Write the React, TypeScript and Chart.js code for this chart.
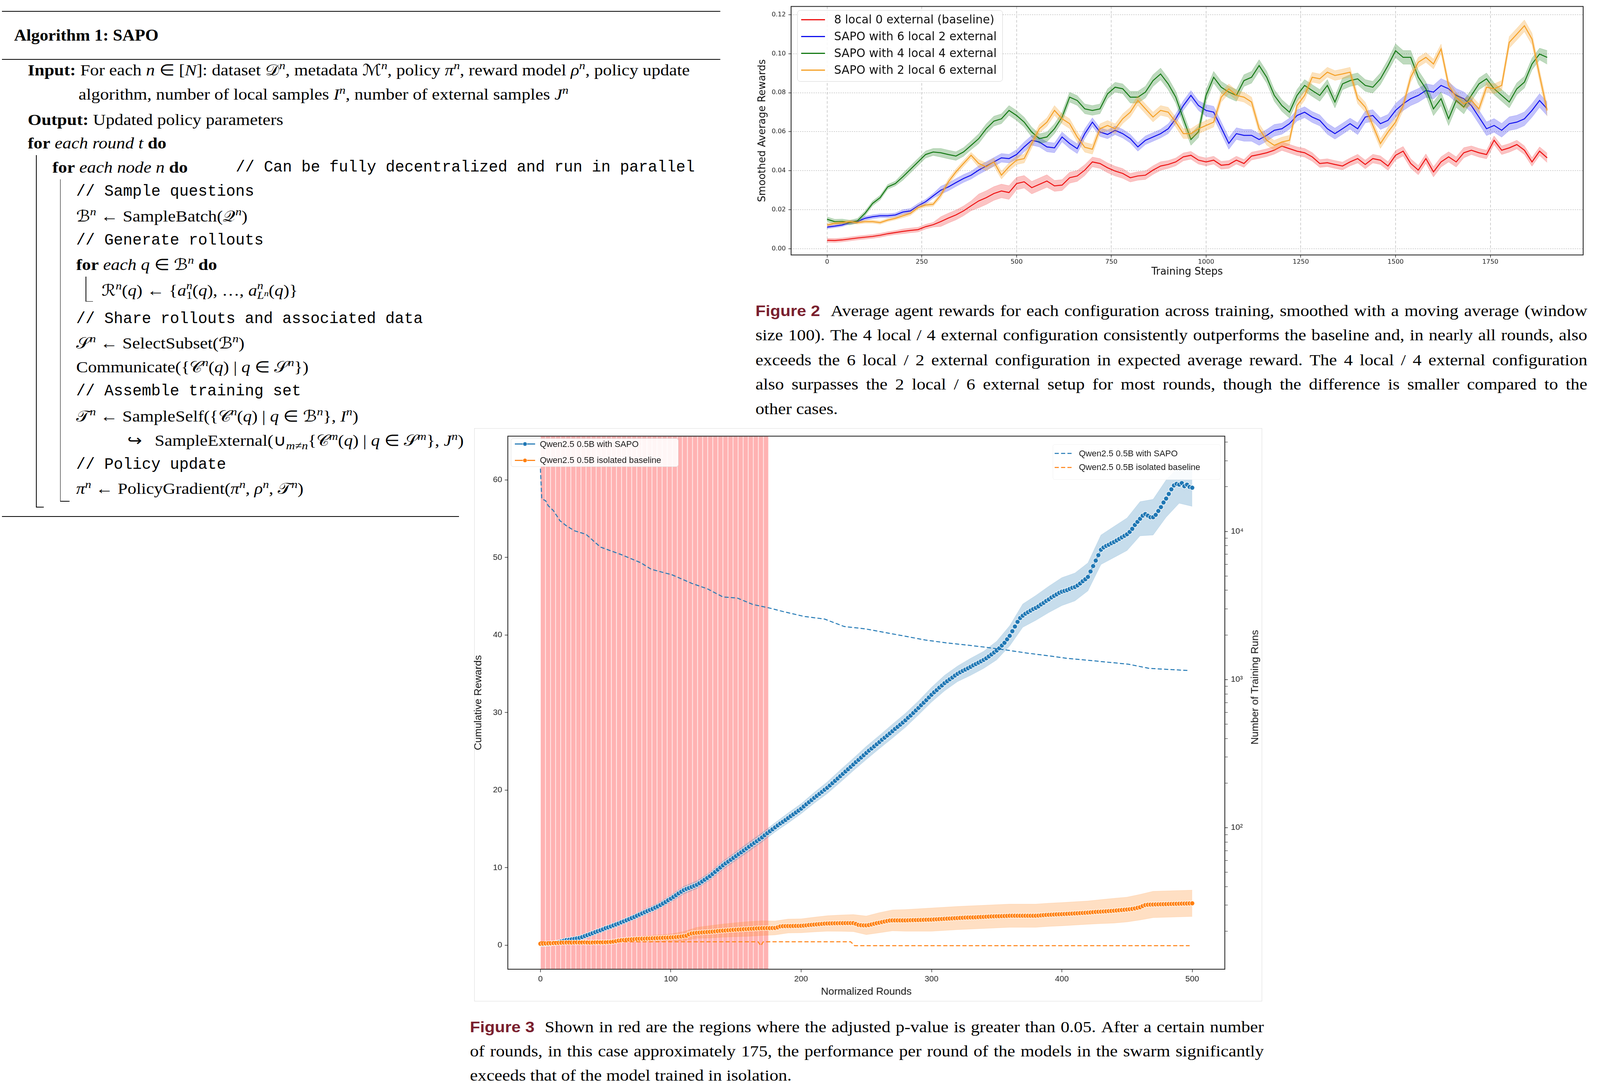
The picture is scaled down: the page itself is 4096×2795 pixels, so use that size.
import React, { useEffect, useRef } from 'react';
import { Chart, registerables } from 'chart.js';

Chart.register(...registerables);

// ====================== DATA ======================
// Figure 2: smoothed average rewards, one sample every 20 training steps (0 .. 1900)
const fig2StepEvery = 20;
const fig2BandBucket = 100; // band half-width given per 100-step bucket
const fig2XTicks = [0, 250, 500, 750, 1000, 1250, 1500, 1750];
const fig2YTicks = [0, 0.02, 0.04, 0.06, 0.08, 0.1, 0.12];

const rewardsBaseline8L0E = [
  0.0043, 0.0042, 0.0045, 0.0050, 0.0055, 0.0059, 0.0063, 0.0069, 0.0077, 0.0083,
  0.0089, 0.0094, 0.0098, 0.0113, 0.0123, 0.0139, 0.0157, 0.0173, 0.0194, 0.0220,
  0.0245, 0.0262, 0.0283, 0.0296, 0.0288, 0.0334, 0.0343, 0.0313, 0.0330, 0.0347,
  0.0322, 0.0326, 0.0364, 0.0373, 0.0403, 0.0445, 0.0437, 0.0415, 0.0398, 0.0386,
  0.0364, 0.0373, 0.0377, 0.0403, 0.0424, 0.0432, 0.0445, 0.0471, 0.0479, 0.0454,
  0.0445, 0.0454, 0.0428, 0.0432, 0.0454, 0.0437, 0.0475, 0.0483, 0.0492, 0.0505,
  0.0526, 0.0513, 0.0500, 0.0492, 0.0471, 0.0437, 0.0441, 0.0432, 0.0424, 0.0445,
  0.0462, 0.0432, 0.0462, 0.0454, 0.0424, 0.0479, 0.0500, 0.0437, 0.0403, 0.0462,
  0.0394, 0.0445, 0.0471, 0.0445, 0.0492, 0.0505, 0.0492, 0.0483, 0.0556, 0.0505,
  0.0517, 0.0534, 0.0505, 0.0445, 0.0500, 0.0466,
];
const rewardsSapo6L2E = [
  0.0111, 0.0116, 0.0122, 0.0134, 0.0139, 0.0156, 0.0164, 0.0169, 0.0169, 0.0173,
  0.0188, 0.0194, 0.0220, 0.0241, 0.0271, 0.0300, 0.0317, 0.0339, 0.0360, 0.0377,
  0.0403, 0.0424, 0.0445, 0.0466, 0.0462, 0.0483, 0.0522, 0.0556, 0.0547, 0.0522,
  0.0517, 0.0573, 0.0539, 0.0513, 0.0590, 0.0649, 0.0598, 0.0586, 0.0607, 0.0590,
  0.0564, 0.0522, 0.0556, 0.0573, 0.0590, 0.0615, 0.0666, 0.0734, 0.0786, 0.0734,
  0.0709, 0.0700, 0.0620, 0.0540, 0.0590, 0.0581, 0.0581, 0.0560, 0.0581, 0.0607,
  0.0615, 0.0641, 0.0683, 0.0700, 0.0675, 0.0658, 0.0615, 0.0590, 0.0615, 0.0641,
  0.0615, 0.0675, 0.0683, 0.0641, 0.0658, 0.0709, 0.0743, 0.0769, 0.0786, 0.0811,
  0.0803, 0.0837, 0.0820, 0.0786, 0.0769, 0.0734, 0.0675, 0.0615, 0.0632, 0.0607,
  0.0641, 0.0649, 0.0666, 0.0709, 0.0760, 0.0717,
];
const rewardsSapo4L4E = [
  0.0151, 0.0139, 0.0140, 0.0134, 0.0143, 0.0181, 0.0232, 0.0262, 0.0317, 0.0334,
  0.0369, 0.0407, 0.0445, 0.0483, 0.0496, 0.0492, 0.0483, 0.0475, 0.0496, 0.0530,
  0.0564, 0.0615, 0.0654, 0.0666, 0.0709, 0.0683, 0.0649, 0.0598, 0.0564, 0.0573,
  0.0615, 0.0675, 0.0777, 0.0760, 0.0717, 0.0709, 0.0717, 0.0794, 0.0828, 0.0820,
  0.0777, 0.0777, 0.0803, 0.0862, 0.0896, 0.0845, 0.0777, 0.0666, 0.0560, 0.0600,
  0.0786, 0.0879, 0.0828, 0.0803, 0.0786, 0.0862, 0.0879, 0.0939, 0.0879, 0.0786,
  0.0734, 0.0700, 0.0786, 0.0837, 0.0811, 0.0786, 0.0837, 0.0752, 0.0845, 0.0862,
  0.0871, 0.0837, 0.0828, 0.0871, 0.0939, 0.1015, 0.0981, 0.0981, 0.0879, 0.0820,
  0.0717, 0.0769, 0.0666, 0.0760, 0.0726, 0.0786, 0.0845, 0.0871, 0.0820, 0.0786,
  0.0752, 0.0820, 0.0854, 0.0947, 0.0998, 0.0981,
];
const rewardsSapo2L6E = [
  0.0122, 0.0130, 0.0134, 0.0139, 0.0134, 0.0139, 0.0139, 0.0134, 0.0147, 0.0156,
  0.0169, 0.0181, 0.0211, 0.0224, 0.0228, 0.0275, 0.0343, 0.0394, 0.0437, 0.0479,
  0.0437, 0.0420, 0.0445, 0.0377, 0.0420, 0.0454, 0.0462, 0.0539, 0.0615, 0.0649,
  0.0709, 0.0666, 0.0641, 0.0573, 0.0520, 0.0510, 0.0615, 0.0632, 0.0615, 0.0666,
  0.0700, 0.0760, 0.0717, 0.0675, 0.0709, 0.0700, 0.0649, 0.0590, 0.0590, 0.0615,
  0.0632, 0.0649, 0.0777, 0.0820, 0.0786, 0.0777, 0.0752, 0.0615, 0.0556, 0.0530,
  0.0547, 0.0556, 0.0734, 0.0786, 0.0879, 0.0871, 0.0905, 0.0888, 0.0896, 0.0905,
  0.0769, 0.0726, 0.0632, 0.0539, 0.0598, 0.0649, 0.0734, 0.0879, 0.0956, 0.0981,
  0.0947, 0.1024, 0.0837, 0.0777, 0.0743, 0.0760, 0.0717, 0.0828, 0.0820, 0.0837,
  0.1058, 0.1100, 0.1143, 0.1075, 0.0888, 0.0709,
];
const bandBaseline8L0E = [0.0010, 0.0010, 0.0012, 0.0025, 0.0035, 0.0032, 0.0028, 0.0025, 0.0022, 0.0020,
  0.0020, 0.0020, 0.0022, 0.0020, 0.0022, 0.0024, 0.0026, 0.0022, 0.0022, 0.0024];
const bandSapo6L2E = [0.0008, 0.0010, 0.0012, 0.0020, 0.0022, 0.0025, 0.0025, 0.0022, 0.0022, 0.0025,
  0.0030, 0.0030, 0.0028, 0.0028, 0.0030, 0.0035, 0.0035, 0.0035, 0.0035, 0.0035];
const bandSapo4L4E = [0.0012, 0.0012, 0.0018, 0.0022, 0.0025, 0.0025, 0.0025, 0.0025, 0.0030, 0.0030,
  0.0030, 0.0030, 0.0030, 0.0030, 0.0030, 0.0035, 0.0035, 0.0030, 0.0030, 0.0035];
const bandSapo2L6E = [0.0008, 0.0008, 0.0010, 0.0015, 0.0020, 0.0022, 0.0025, 0.0025, 0.0025, 0.0025,
  0.0025, 0.0025, 0.0025, 0.0025, 0.0025, 0.0025, 0.0025, 0.0025, 0.0030, 0.0030];

// Figure 3: cumulative rewards, one sample every 2 normalized rounds (0 .. 500)
const fig3RoundEvery = 2;
const cumRewardSapo = [
  0.15, 0.12, 0.18, 0.16, 0.22, 0.25,
  0.32, 0.40, 0.48, 0.58, 0.67, 0.70, 0.76, 0.82, 0.88, 0.95,
  1.05, 1.18, 1.30, 1.42, 1.55, 1.68, 1.80, 1.92, 2.05, 2.20,
  2.30, 2.42, 2.55, 2.68, 2.80, 2.95, 3.08, 3.22, 3.36, 3.50,
  3.64, 3.80, 3.95, 4.10, 4.25, 4.40, 4.55, 4.68, 4.85, 5.00,
  5.18, 5.38, 5.58, 5.80, 6.00, 6.22, 6.45, 6.68, 6.90, 7.10,
  7.26, 7.38, 7.52, 7.66, 7.80, 8.00, 8.22, 8.45, 8.68, 8.90,
  9.18, 9.45, 9.74, 10.02, 10.30, 10.55, 10.78, 11.02, 11.26, 11.50,
  11.75, 11.98, 12.22, 12.46, 12.70, 12.95, 13.18, 13.42, 13.66, 13.90,
  14.18, 14.45, 14.70, 14.95, 15.20, 15.45, 15.70, 15.92, 16.15, 16.40,
  16.65, 16.88, 17.12, 17.36, 17.60, 17.90, 18.18, 18.45, 18.72, 19.00,
  19.26, 19.52, 19.78, 20.05, 20.30, 20.60, 20.90, 21.20, 21.50, 21.80,
  22.10, 22.40, 22.70, 23.00, 23.30, 23.62, 23.90, 24.20, 24.50, 24.80,
  25.10, 25.36, 25.64, 25.92, 26.20, 26.50, 26.76, 27.04, 27.32, 27.60,
  27.90, 28.16, 28.44, 28.72, 29.00, 29.34, 29.62, 29.95, 30.28, 30.60,
  30.95, 31.28, 31.60, 31.96, 32.30, 32.62, 32.90, 33.22, 33.50, 33.80,
  34.05, 34.30, 34.52, 34.78, 35.00, 35.20, 35.38, 35.55, 35.72, 35.90,
  36.10, 36.26, 36.44, 36.62, 36.80, 37.00, 37.25, 37.50, 37.75, 38.00,
  38.30, 38.65, 39.00, 39.45, 39.90, 40.50, 41.10, 41.70, 42.20, 42.50,
  42.75, 42.95, 43.15, 43.35, 43.50, 43.70, 43.95, 44.15, 44.40, 44.60,
  44.85, 45.05, 45.25, 45.45, 45.60, 45.70, 45.80, 45.95, 46.10, 46.20,
  46.40, 46.65, 46.95, 47.20, 47.50, 48.20, 48.90, 49.60, 50.30, 51.00,
  51.30, 51.50, 51.65, 51.85, 52.00, 52.20, 52.40, 52.60, 52.80, 53.00,
  53.30, 53.70, 54.20, 54.60, 55.00, 55.40, 55.60, 55.40, 55.20, 55.20,
  55.50, 56.00, 56.50, 57.10, 57.60, 58.20, 58.80, 59.30, 59.50, 59.40,
  59.60, 59.20, 59.40, 59.10, 59.00,
];
const cumRewardBaseline = [
  0.19, 0.20, 0.22, 0.24, 0.25, 0.27,
  0.28, 0.30, 0.32, 0.34, 0.35, 0.35, 0.34, 0.35, 0.36, 0.35,
  0.35, 0.36, 0.35, 0.34, 0.35, 0.36, 0.37, 0.36, 0.37, 0.38,
  0.40, 0.42, 0.46, 0.52, 0.60, 0.64, 0.67, 0.70, 0.73, 0.76,
  0.78, 0.80, 0.82, 0.83, 0.84, 0.86, 0.87, 0.89, 0.90, 0.92,
  0.94, 0.95, 0.97, 0.98, 1.00, 1.02, 1.05, 1.08, 1.12, 1.17,
  1.22, 1.40, 1.52, 1.56, 1.60, 1.62, 1.65, 1.67, 1.70, 1.72,
  1.75, 1.78, 1.82, 1.85, 1.88, 1.90, 1.93, 1.95, 1.98, 2.00,
  2.02, 2.04, 2.06, 2.08, 2.10, 2.12, 2.14, 2.16, 2.18, 2.20,
  2.20, 2.21, 2.20, 2.21, 2.22, 2.30, 2.42, 2.45, 2.46, 2.47,
  2.47, 2.48, 2.49, 2.49, 2.50, 2.53, 2.56, 2.60, 2.63, 2.66,
  2.69, 2.72, 2.75, 2.78, 2.80, 2.81, 2.82, 2.83, 2.83, 2.84,
  2.84, 2.85, 2.85, 2.85, 2.85, 2.75, 2.62, 2.58, 2.56, 2.56,
  2.60, 2.68, 2.76, 2.84, 2.90, 2.98, 3.05, 3.12, 3.18, 3.20,
  3.20, 3.20, 3.20, 3.20, 3.20, 3.21, 3.22, 3.23, 3.24, 3.25,
  3.26, 3.27, 3.28, 3.29, 3.30, 3.32, 3.34, 3.36, 3.38, 3.40,
  3.42, 3.44, 3.46, 3.48, 3.50, 3.52, 3.54, 3.56, 3.57, 3.58,
  3.59, 3.60, 3.62, 3.64, 3.65, 3.67, 3.69, 3.71, 3.72, 3.73,
  3.74, 3.75, 3.76, 3.78, 3.80, 3.80, 3.80, 3.80, 3.80, 3.80,
  3.80, 3.80, 3.80, 3.80, 3.80, 3.82, 3.85, 3.88, 3.90, 3.92,
  3.94, 3.96, 3.98, 3.99, 4.00, 4.02, 4.04, 4.06, 4.08, 4.10,
  4.12, 4.14, 4.16, 4.18, 4.20, 4.23, 4.26, 4.29, 4.31, 4.33,
  4.35, 4.37, 4.40, 4.42, 4.45, 4.48, 4.51, 4.54, 4.57, 4.60,
  4.64, 4.68, 4.74, 4.82, 4.90, 5.05, 5.18, 5.22, 5.24, 5.25,
  5.26, 5.27, 5.28, 5.29, 5.30, 5.31, 5.32, 5.33, 5.34, 5.35,
  5.36, 5.37, 5.38, 5.39, 5.40,
];
// confidence band half-width, one value every 10 rounds (0 .. 500)
const fig3BandEvery = 10;
const cumBandSapo = [0.15, 0.2, 0.25, 0.3, 0.3, 0.3, 0.35, 0.35, 0.4, 0.4, 0.45,
  0.5, 0.5, 0.5, 0.55, 0.55, 0.6, 0.6, 0.6, 0.65, 0.65,
  0.7, 0.75, 0.8, 0.8, 0.85, 0.85, 0.9, 0.9, 0.9, 0.95,
  1.0, 1.0, 1.1, 1.1, 1.2, 1.3, 1.5, 1.6, 1.7, 1.8,
  1.8, 1.8, 1.9, 2.0, 2.1, 2.2, 2.3, 2.4, 2.4, 2.4];
const cumBandBaseline = [0.12, 0.15, 0.15, 0.18, 0.2, 0.22, 0.25, 0.3, 0.35, 0.4, 0.45,
  0.6, 0.7, 0.8, 0.85, 0.9, 0.95, 0.95, 0.9, 0.9, 0.9,
  0.95, 1.0, 1.05, 1.1, 1.2, 1.3, 1.35, 1.4, 1.45, 1.5,
  1.5, 1.5, 1.5, 1.5, 1.5, 1.5, 1.5, 1.5, 1.5, 1.5,
  1.5, 1.5, 1.55, 1.6, 1.6, 1.65, 1.7, 1.7, 1.7, 1.7];
// number of training runs (right, log axis)
const runsSapoRounds = [0, 1, 4, 6, 10, 15, 20, 26, 35, 46, 62, 77, 85, 101, 116, 128, 140, 151, 163, 175,
  186, 202, 218, 233, 249, 264, 280, 295, 311, 327, 342, 358, 373, 389, 404, 420, 435, 451, 467, 482, 498];
const runsSapo = [26500, 16600, 16100, 14900, 13800, 11800, 10900, 10100, 9550, 7840, 6970, 6140, 5550, 5090, 4460, 4100, 3610, 3550, 3210, 3050,
  2880, 2670, 2560, 2280, 2200, 2080, 1960, 1850, 1770, 1710, 1650, 1580, 1510, 1450, 1390, 1350, 1310, 1270, 1190, 1170, 1150];
const runsBaselineRounds = [0, 167, 169, 171, 238, 241, 498];
const runsBaseline = [17, 17, 16, 17, 17, 16, 16];
// rounds where adjusted p-value > 0.05
const highPValueRegion = [0, 175];
const highPValueStripes = 45;
const fig3XTicks = [0, 100, 200, 300, 400, 500];
const fig3YTicks = [0, 10, 20, 30, 40, 50, 60];
const fig3RunsMajor = [100, 1000, 10000];
const fig3RunsLabels = ['10²', '10³', '10⁴'];

const fig2Labels = ['8 local 0 external (baseline)', 'SAPO with 6 local 2 external', 'SAPO with 4 local 4 external', 'SAPO with 2 local 6 external'];
const fig3Labels = ['Qwen2.5 0.5B with SAPO', 'Qwen2.5 0.5B isolated baseline'];

const fig2CaptionLines = [
  'Average agent rewards for each configuration across training, smoothed with a moving average (window',
  'size 100). The 4 local / 4 external configuration consistently outperforms the baseline and, in nearly all rounds, also',
  'exceeds the 6 local / 2 external configuration in expected average reward. The 4 local / 4 external configuration',
  'also surpasses the 2 local / 6 external setup for most rounds, though the difference is smaller compared to the',
  'other cases.',
];
const fig3CaptionLines = [
  'Shown in red are the regions where the adjusted p-value is greater than 0.05. After a certain number',
  'of rounds, in this case approximately 175, the performance per round of the models in the swarm significantly',
  'exceeds that of the model trained in isolation.',
];

// ====================== STYLE ======================
const K = 0.961;
const px = (v: number) => v * K;
const SERIF = "'Liberation Serif','Times New Roman',serif";
const MONO = "'Liberation Mono','DejaVu Sans Mono',monospace";
const SANS = "'Liberation Sans',Arial,sans-serif";
const DEJAVU = "'DejaVu Sans',sans-serif";
const SCRIPT = "'DejaVu Serif','DejaVu Sans',serif";
const FIG_RED = '#7a1f2e';
const FS = 42;
const LH = 60;
const SX = 1.12; // horizontal stretch of the serif text to match the wider book face

const fig2Colors = ['#ee1111', '#1010ee', '#157a15', '#f5a025'];
const fig2Bands = ['rgba(238,17,17,0.25)', 'rgba(16,16,238,0.25)', 'rgba(21,122,21,0.28)', 'rgba(245,160,37,0.3)'];
const C_BLUE = '#1f77b4';
const C_ORANGE = '#ff7f0e';

const framePlugin = {
  id: 'axesFrame',
  afterDatasetsDraw(chart: any, _a: any, opts: any) {
    const a = chart.chartArea;
    const ctx = chart.ctx;
    ctx.save();
    ctx.setLineDash([]);
    ctx.strokeStyle = opts.color || '#000';
    ctx.lineWidth = opts.width || 1;
    ctx.strokeRect(a.left, a.top, a.right - a.left, a.bottom - a.top);
    ctx.restore();
  },
};

// ====================== FIGURE 2 ======================
function Fig2() {
  const ref = useRef<HTMLCanvasElement | null>(null);
  useEffect(() => {
    if (!ref.current) return;
    const series = [rewardsBaseline8L0E, rewardsSapo6L2E, rewardsSapo4L4E, rewardsSapo2L6E];
    const bands = [bandBaseline8L0E, bandSapo6L2E, bandSapo4L4E, bandSapo2L6E];
    const datasets: any[] = [];
    series.forEach((vals, si) => {
      const base = 100 - si * 10;
      const step = (i: number) => i * fig2StepEvery;
      const half = (i: number) => bands[si][Math.floor(step(i) / fig2BandBucket)];
      datasets.push({
        data: vals.map((v, i) => ({ x: step(i), y: v + half(i) })),
        borderColor: fig2Bands[si], borderWidth: px(1), pointRadius: 0, fill: '+1',
        backgroundColor: fig2Bands[si], order: base + 2,
      });
      datasets.push({
        data: vals.map((v, i) => ({ x: step(i), y: v - half(i) })),
        borderColor: fig2Bands[si], borderWidth: px(1), pointRadius: 0, fill: false, order: base + 2,
      });
      datasets.push({
        label: fig2Labels[si],
        data: vals.map((v, i) => ({ x: step(i), y: v })),
        borderColor: fig2Colors[si], borderWidth: px(2.6), pointRadius: 0, fill: false, order: base + 1,
      });
    });
    const tickFont = { family: DEJAVU, size: px(17) };
    const chart = new Chart(ref.current, {
      type: 'line',
      data: { datasets },
      plugins: [framePlugin],
      options: {
        animation: false,
        responsive: true,
        maintainAspectRatio: false,
        events: [],
        layout: { padding: { left: 0, top: px(12), right: px(23), bottom: 0 } },
        plugins: { legend: { display: false }, tooltip: { enabled: false }, axesFrame: { color: '#222', width: px(2.2) } } as any,
        scales: {
          x: {
            type: 'linear', min: -95, max: 1995,
            afterBuildTicks: (s: any) => { s.ticks = fig2XTicks.map((v) => ({ value: v })); },
            afterFit: (s: any) => { s.height = px(81); },
            ticks: { font: tickFont, color: '#222', padding: px(2), maxRotation: 0, autoSkip: false, callback: (v: any) => String(v) },
            grid: { drawOnChartArea: true, drawTicks: true, tickLength: px(7), color: '#b5b5b5', lineWidth: px(1.3), tickColor: '#222', tickWidth: px(1.5) },
            border: { display: false, dash: [px(7), px(5)] },
            title: { display: true, text: 'Training Steps', font: { family: DEJAVU, size: px(27) }, color: '#111', padding: { top: 0, bottom: px(18.8) } },
          },
          y: {
            type: 'linear', min: -0.0032, max: 0.1242,
            afterBuildTicks: (s: any) => { s.ticks = fig2YTicks.map((v) => ({ value: v })); },
            afterFit: (s: any) => { s.width = px(97); },
            ticks: { font: tickFont, color: '#222', padding: px(7), autoSkip: false, callback: (v: any) => Number(v).toFixed(2) },
            grid: { drawOnChartArea: true, drawTicks: true, tickLength: px(7), color: '#b5b5b5', lineWidth: px(1.3), tickColor: '#222', tickWidth: px(1.5) },
            border: { display: false, dash: [px(3), px(3)] },
            title: { display: true, text: 'Smoothed Average Rewards', font: { family: DEJAVU, size: px(27) }, color: '#111', padding: { top: px(4.8), bottom: 0 } },
          },
        },
      } as any,
    });
    return () => chart.destroy();
  }, []);
  const rows = [53, 97, 142, 187];
  return (
    <>
      <div style={{ position: 'absolute', left: px(2010), top: 0, width: px(2230), height: px(760) }}>
        <canvas ref={ref} />
      </div>
      <div style={{ position: 'absolute', left: px(2124), top: px(27), width: px(547), height: px(190), boxSizing: 'border-box', background: 'rgba(255,255,255,0.85)', border: `${px(1.5)}px solid #d4d4d4`, borderRadius: px(8) }} />
      {fig2Labels.map((l, i) => (
        <div key={l} style={{ position: 'absolute', left: px(2134), top: px(rows[i] - 20), height: px(40), display: 'flex', alignItems: 'center', whiteSpace: 'nowrap' }}>
          <div style={{ width: px(64), height: px(3), background: fig2Colors[i] }} />
          <span style={{ marginLeft: px(24), fontFamily: DEJAVU, fontSize: px(30.6), lineHeight: 1, color: '#111' }}>{l}</span>
        </div>
      ))}
    </>
  );
}

// ====================== FIGURE 3 ======================
function Fig3() {
  const ref = useRef<HTMLCanvasElement | null>(null);
  useEffect(() => {
    if (!ref.current) return;
    const [r0, r1] = highPValueRegion;
    const w = (r1 - r0) / highPValueStripes;
    const stripes = Array.from({ length: highPValueStripes }, (_, k) => ({ x: r0 + (k + 0.5) * w, y: [-10, 80] }));
    const pts = (vals: number[]) => vals.map((v, i) => ({ x: i * fig3RoundEvery, y: v }));
    const band = (vals: number[], half: number[], sign: number) =>
      half.map((h, j) => {
        const r = j * fig3BandEvery;
        return { x: r, y: vals[r / fig3RoundEvery] + sign * h };
      });
    const minorRuns: number[] = [];
    [10, 100, 1000, 10000].forEach((d) => [2, 3, 4, 5, 6, 7, 8, 9].forEach((m) => { if (d * m > 11.1 && d * m < 43900) minorRuns.push(d * m); }));
    const allRunTicks = [...minorRuns, ...fig3RunsMajor].sort((a, b) => a - b);
    const datasets: any[] = [
      {
        type: 'bar', data: stripes, backgroundColor: 'rgba(255,0,0,0.3)', borderColor: '#ffffff',
        borderWidth: { left: px(1.1), right: px(1.1), top: 0, bottom: 0 }, borderSkipped: false,
        categoryPercentage: 1, barPercentage: 1, grouped: false, order: 200, xAxisID: 'x', yAxisID: 'y',
      },
      { data: band(cumRewardSapo, cumBandSapo, 1), borderColor: 'rgba(31,119,180,0.2)', borderWidth: px(1), pointRadius: 0, fill: '+1', backgroundColor: 'rgba(31,119,180,0.25)', order: 62, yAxisID: 'y' },
      { data: band(cumRewardSapo, cumBandSapo, -1), borderColor: 'rgba(31,119,180,0.2)', borderWidth: px(1), pointRadius: 0, fill: false, order: 62, yAxisID: 'y' },
      {
        label: fig3Labels[0], data: pts(cumRewardSapo), borderColor: C_BLUE, borderWidth: px(2.5), pointRadius: px(6.4),
        pointBackgroundColor: C_BLUE, pointBorderColor: '#ffffff', pointBorderWidth: px(1.3), fill: false, order: 61, yAxisID: 'y',
      },
      { data: band(cumRewardBaseline, cumBandBaseline, 1), borderColor: 'rgba(255,127,14,0.2)', borderWidth: px(1), pointRadius: 0, fill: '+1', backgroundColor: 'rgba(255,127,14,0.25)', order: 52, yAxisID: 'y' },
      { data: band(cumRewardBaseline, cumBandBaseline, -1), borderColor: 'rgba(255,127,14,0.2)', borderWidth: px(1), pointRadius: 0, fill: false, order: 52, yAxisID: 'y' },
      {
        label: fig3Labels[1], data: pts(cumRewardBaseline), borderColor: C_ORANGE, borderWidth: px(2.5), pointRadius: px(6.4),
        pointBackgroundColor: C_ORANGE, pointBorderColor: '#ffffff', pointBorderWidth: px(1.3), fill: false, order: 51, yAxisID: 'y',
      },
      {
        label: fig3Labels[0] + ' runs', data: runsSapoRounds.map((r, i) => ({ x: r, y: runsSapo[i] })), borderColor: C_BLUE,
        borderWidth: px(2.6), borderDash: [px(11), px(6)], pointRadius: 0, fill: false, order: 2, yAxisID: 'y2',
      },
      {
        label: fig3Labels[1] + ' runs', data: runsBaselineRounds.map((r, i) => ({ x: r, y: runsBaseline[i] })), borderColor: C_ORANGE,
        borderWidth: px(2.6), borderDash: [px(11), px(6)], pointRadius: 0, fill: false, order: 1, yAxisID: 'y2',
      },
    ];
    const tickFont = { family: SANS, size: px(22) };
    const tickGrid = { drawOnChartArea: false, drawTicks: true, tickLength: px(8), color: '#222', tickColor: '#222', tickWidth: px(1.5) };
    const chart = new Chart(ref.current, {
      type: 'line',
      data: { datasets },
      plugins: [framePlugin],
      options: {
        animation: false,
        responsive: true,
        maintainAspectRatio: false,
        events: [],
        layout: { padding: { left: 0, top: px(18), right: 0, bottom: 0 } },
        plugins: { legend: { display: false }, tooltip: { enabled: false }, axesFrame: { color: '#222', width: px(2.2) } } as any,
        scales: {
          x: {
            type: 'linear', min: -25, max: 525, offset: false,
            afterBuildTicks: (s: any) => { s.ticks = fig3XTicks.map((v) => ({ value: v })); },
            afterFit: (s: any) => { s.height = px(99); },
            ticks: { font: tickFont, color: '#222', padding: px(4.8), maxRotation: 0, autoSkip: false, callback: (v: any) => String(v) },
            grid: { ...tickGrid, offset: false },
            border: { display: false },
            title: { display: true, text: 'Normalized Rounds', font: { family: SANS, size: px(27.5) }, color: '#111', padding: { top: 0, bottom: px(22.5) } },
          },
          y: {
            type: 'linear', position: 'left', min: -3.1, max: 65.65,
            afterBuildTicks: (s: any) => { s.ticks = fig3YTicks.map((v) => ({ value: v })); },
            afterFit: (s: any) => { s.width = px(103); },
            ticks: { font: tickFont, color: '#222', padding: px(7), autoSkip: false, callback: (v: any) => String(v) },
            grid: tickGrid,
            border: { display: false },
            title: { display: true, text: 'Cumulative Rewards', font: { family: SANS, size: px(27.5) }, color: '#111', padding: { top: px(8.5), bottom: 0 } },
          },
          y2: {
            type: 'logarithmic', position: 'right', min: 11.1, max: 43900,
            afterBuildTicks: (s: any) => { s.ticks = allRunTicks.map((v) => ({ value: v, major: fig3RunsMajor.includes(v) })); },
            afterFit: (s: any) => { s.width = px(108); },
            ticks: {
              font: tickFont, color: '#222', padding: px(8), autoSkip: false,
              callback: (v: any) => { const k = fig3RunsMajor.indexOf(Number(v)); return k >= 0 ? fig3RunsLabels[k] : ''; },
            },
            grid: { ...tickGrid, tickWidth: (c: any) => (c.tick && fig3RunsMajor.includes(c.tick.value) ? px(1.5) : px(1)) },
            border: { display: false },
          },
        },
      } as any,
    });
    return () => chart.destroy();
  }, []);
  const lRows = [1183, 1226];
  const rRows = [1208, 1245];
  const cols = [C_BLUE, C_ORANGE];
  return (
    <>
      <div style={{ position: 'absolute', left: px(1263), top: px(1140), width: px(2099), height: px(1527), boxSizing: 'border-box', border: `${px(2)}px solid #dcdcdc` }} />
      <div style={{ position: 'absolute', left: px(1250), top: px(1140), width: px(2120), height: px(1540) }}>
        <canvas ref={ref} />
      </div>
      <div style={{ position: 'absolute', left: px(1361), top: px(1168), width: px(447), height: px(75), boxSizing: 'border-box', background: 'rgba(255,255,255,0.88)', border: `${px(1.5)}px solid rgba(0,0,0,0.12)`, borderRadius: px(6) }} />
      {fig3Labels.map((l, i) => (
        <div key={'l' + i} style={{ position: 'absolute', left: px(1372), top: px(lRows[i] - 15), height: px(30), display: 'flex', alignItems: 'center', whiteSpace: 'nowrap' }}>
          <svg width={px(54)} height={px(30)} style={{ display: 'block' }}>
            <line x1={0} y1={px(15)} x2={px(54)} y2={px(15)} stroke={cols[i]} strokeWidth={px(3)} />
            <circle cx={px(27)} cy={px(15)} r={px(5.5)} fill={cols[i]} stroke="#fff" strokeWidth={px(1)} />
          </svg>
          <span style={{ marginLeft: px(12), fontFamily: SANS, fontSize: px(23), lineHeight: 1, color: '#1a1a1a' }}>{l}</span>
        </div>
      ))}
      <div style={{ position: 'absolute', left: px(2804), top: px(1183), width: px(448), height: px(95), boxSizing: 'border-box', background: 'rgba(255,255,255,0.88)', border: `${px(1)}px solid rgba(0,0,0,0.05)`, borderRadius: px(6) }} />
      {fig3Labels.map((l, i) => (
        <div key={'r' + i} style={{ position: 'absolute', left: px(2810), top: px(rRows[i] - 15), height: px(30), display: 'flex', alignItems: 'center', whiteSpace: 'nowrap' }}>
          <svg width={px(49)} height={px(30)} style={{ display: 'block' }}>
            <line x1={0} y1={px(15)} x2={px(49)} y2={px(15)} stroke={cols[i]} strokeWidth={px(2.6)} strokeDasharray={`${px(11)} ${px(6)}`} />
          </svg>
          <span style={{ marginLeft: px(15), fontFamily: SANS, fontSize: px(23), lineHeight: 1, color: '#1a1a1a' }}>{l}</span>
        </div>
      ))}
      <div style={{ position: 'absolute', left: px(3342), top: px(1830), transform: 'translate(-50%,-50%) rotate(-90deg)', whiteSpace: 'nowrap', fontFamily: SANS, fontSize: px(27.5), color: '#111', lineHeight: 1 }}>
        Number of Training Runs
      </div>
    </>
  );
}

// ====================== TEXT ======================
const Sup = ({ c }: any) => <span style={{ fontSize: '0.7em', position: 'relative', top: '-0.55em', lineHeight: 0 }}>{c}</span>;
const Sub = ({ c }: any) => <span style={{ fontSize: '0.7em', position: 'relative', top: '0.32em', lineHeight: 0 }}>{c}</span>;
const Scr = ({ c }: any) => <span style={{ fontFamily: SCRIPT }}>{c}</span>;
const SubSup = ({ sub, sup }: any) => (
  <span style={{ display: 'inline-flex', flexDirection: 'column', fontSize: '0.7em', lineHeight: 0.9, verticalAlign: '0.6em' }}>
    <span>{sup}</span>
    <span>{sub}</span>
  </span>
);
const nS = <Sup c={<i>n</i>} />;
const mS = <Sup c={<i>m</i>} />;

function TLine({ x, cy, children, mono = false }: any) {
  return (
    <div style={{
      position: 'absolute', left: px(x), top: px(cy - LH / 2), height: px(LH), lineHeight: `${px(LH)}px`, whiteSpace: 'nowrap',
      fontFamily: mono ? MONO : SERIF, fontSize: px(mono ? 41.6 : FS), color: '#000',
      transform: mono ? 'none' : `scaleX(${SX})`, transformOrigin: 'left center',
    }}>
      {children}
    </div>
  );
}
function Rule({ x1, x2, y, t }: any) {
  return <div style={{ position: 'absolute', left: px(x1), top: px(y - t / 2), width: px(x2 - x1), height: px(t), background: '#000' }} />;
}
function VBar({ x, y1, y2, foot }: any) {
  return (
    <>
      <div style={{ position: 'absolute', left: px(x), top: px(y1), width: px(1.6), height: px(y2 - y1), background: '#000' }} />
      <div style={{ position: 'absolute', left: px(x), top: px(y2), width: px(foot - x), height: px(1.6), background: '#000' }} />
    </>
  );
}

function Algorithm() {
  return (
    <>
      <Rule x1={5} x2={1919} y={30} t={2.4} />
      <div style={{ position: 'absolute', left: px(37), top: px(94 - LH / 2), height: px(LH), lineHeight: `${px(LH)}px`, fontFamily: SERIF, fontWeight: 700, fontSize: px(43), whiteSpace: 'nowrap', transform: 'scaleX(1.06)', transformOrigin: 'left center' }}>Algorithm 1: SAPO</div>
      <Rule x1={5} x2={1919} y={158} t={1.8} />
      <TLine x={74} cy={187}><b>Input:</b> For each <i>n</i> ∈ [<i>N</i>]: dataset <Scr c="𝒟" />{nS}, metadata <Scr c="ℳ" />{nS}, policy <i>π</i>{nS}, reward model <i>ρ</i>{nS}, policy update</TLine>
      <TLine x={209} cy={252}>algorithm, number of local samples <i>I</i>{nS}, number of external samples <i>J</i>{nS}</TLine>
      <TLine x={74} cy={319}><b>Output:</b> Updated policy parameters</TLine>
      <TLine x={74} cy={382}><b>for</b> <i>each round t</i> <b>do</b></TLine>
      <TLine x={139} cy={446}><b>for</b> <i>each node n</i> <b>do</b></TLine>
      <TLine x={628} cy={446} mono>// Can be fully decentralized and run in parallel</TLine>
      <TLine x={203} cy={511} mono>// Sample questions</TLine>
      <TLine x={203} cy={576}><Scr c="ℬ" />{nS} ← SampleBatch(<Scr c="𝒬" />{nS})</TLine>
      <TLine x={203} cy={641} mono>// Generate rollouts</TLine>
      <TLine x={203} cy={705}><b>for</b> <i>each q</i> ∈ <Scr c="ℬ" />{nS} <b>do</b></TLine>
      <TLine x={271} cy={774}>
        <Scr c="ℛ" />{nS}(<i>q</i>) ← {'{'}<i>a</i><SubSup sup={<i>n</i>} sub="1" />(<i>q</i>), …, <i>a</i><SubSup sup={<i>n</i>} sub={<><i>L</i><span style={{ fontSize: '0.75em', position: 'relative', top: '-0.35em' }}><i>n</i></span></>} />(<i>q</i>){'}'}
      </TLine>
      <TLine x={203} cy={850} mono>// Share rollouts and associated data</TLine>
      <TLine x={203} cy={914}><Scr c="𝒮" />{nS} ← SelectSubset(<Scr c="ℬ" />{nS})</TLine>
      <TLine x={203} cy={978}>Communicate({'{'}<Scr c="𝒞" />{nS}(<i>q</i>) | <i>q</i> ∈ <Scr c="𝒮" />{nS}{'}'})</TLine>
      <TLine x={203} cy={1043} mono>// Assemble training set</TLine>
      <TLine x={203} cy={1109}><Scr c="𝒯" />{nS} ← SampleSelf({'{'}<Scr c="𝒞" />{nS}(<i>q</i>) | <i>q</i> ∈ <Scr c="ℬ" />{nS}{'}'}, <i>I</i>{nS})</TLine>
      <TLine x={339} cy={1174}>↪</TLine>
      <TLine x={412} cy={1174}>SampleExternal(∪<Sub c={<i>m≠n</i>} />{'{'}<Scr c="𝒞" />{mS}(<i>q</i>) | <i>q</i> ∈ <Scr c="𝒮" />{mS}{'}'}, <i>J</i>{nS})</TLine>
      <TLine x={203} cy={1238} mono>// Policy update</TLine>
      <TLine x={203} cy={1302}><i>π</i>{nS} ← PolicyGradient(<i>π</i>{nS}, <i>ρ</i>{nS}, <Scr c="𝒯" />{nS})</TLine>
      <VBar x={96} y1={413} y2={1350} foot={117} />
      <VBar x={160} y1={478} y2={1334} foot={185} />
      <VBar x={228} y1={737} y2={802} foot={248} />
      <Rule x1={5} x2={1223} y={1376} t={2.4} />
    </>
  );
}

function Caption({ x, width, ys, label, lines }: any) {
  const labelEl = <span style={{ fontFamily: SANS, fontWeight: 700, color: FIG_RED, fontSize: px(39.5), marginRight: px(12) }}>{label}</span>;
  return (
    <>
      {lines.map((t: string, i: number) => {
        const last = i === lines.length - 1;
        const base: any = {
          position: 'absolute', left: px(x), top: px(ys[i] - LH / 2), width: px(width) / SX, height: px(LH), lineHeight: `${px(LH)}px`,
          fontFamily: SERIF, fontSize: px(FS), color: '#000', whiteSpace: 'nowrap', transform: `scaleX(${SX})`, transformOrigin: 'left center',
        };
        if (last) {
          return <div key={i} style={base}>{i === 0 && labelEl}{t}</div>;
        }
        return (
          <div key={i} style={{ ...base, display: 'flex', justifyContent: 'space-between', alignItems: 'baseline' }}>
            {i === 0 && labelEl}
            {t.split(' ').map((w, j) => <span key={j}>{w}</span>)}
          </div>
        );
      })}
    </>
  );
}

export default function App() {
  useEffect(() => {
    document.body.style.margin = '0';
    document.body.style.overflow = 'hidden';
  }, []);
  return (
    <div style={{ position: 'absolute', left: 0, top: 0, width: 4096, height: 2795, background: '#fff', overflow: 'hidden' }}>
      <Algorithm />
      <Fig2 />
      <Caption x={2012} width={2216} ys={[828, 893, 959, 1024, 1089]} label="Figure 2" lines={fig2CaptionLines} />
      <Fig3 />
      <Caption x={1252} width={2115} ys={[2735, 2800, 2865]} label="Figure 3" lines={fig3CaptionLines} />
    </div>
  );
}
